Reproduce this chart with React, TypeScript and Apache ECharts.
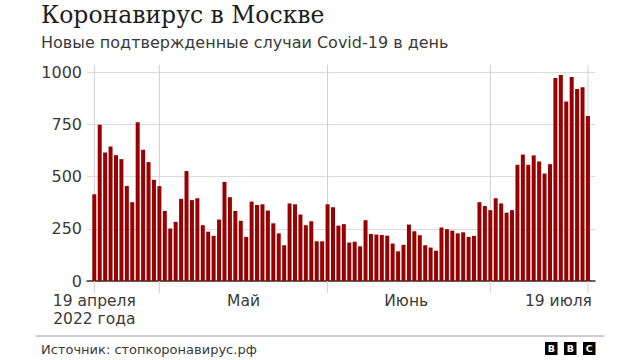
import React, { useEffect, useRef } from "react";
import * as echarts from "echarts";

// Daily new confirmed Covid-19 cases in Moscow, 19 April – 19 July 2022 (one value per day)
const cases = [
  415, 748, 615, 644, 602, 583, 454, 377, 759, 628, 569, 484,
  454, 335, 251, 283, 393, 526, 387, 396, 267, 236, 216, 294, 474, 401, 335, 288, 211, 380, 364, 367,
  337, 276, 228, 171, 371, 367, 318, 267, 286, 190, 190,
  367, 353, 265, 272, 184, 188, 166, 291, 225, 222, 220, 217, 179, 142, 173, 270, 238, 219, 171, 160,
  145, 256, 248, 241, 228, 233, 211, 216, 377, 359,
  339, 396, 371, 327, 339, 556, 605, 556, 601, 572, 514, 559, 971, 986, 859, 976, 919, 927, 789,
];

// Day indices (from 19 April) where vertical guide lines sit: 19 Apr, 1 May, 1 Jun, 1 Jul, 19 Jul
const markDays = [0, 12, 43, 73, 91];

// X-axis labels: anchor day index, line of text, row, alignment
const xLabelDays = [0, 0, 27.5, 57.5, 91];
const xLabelTexts = ["19 апреля", "2022 года", "Май", "Июнь", "19 июля"];
const xLabelRows = [0, 1, 0, 0, 0];
const xLabelAligns = ["center", "center", "center", "center", "right"];

const yTicks = [0, 250, 500, 750, 1000];

const TITLE = "Коронавирус в Москве";
const SUBTITLE = "Новые подтвержденные случаи Covid-19 в день";
const SOURCE = "Источник: стопкоронавирус.рф";

const SANS = '"DejaVu Sans", "Noto Sans", sans-serif';
const SERIF = '"DejaVu Serif", "Liberation Serif", serif';

export default function App() {
  const ref = useRef<HTMLDivElement>(null);

  useEffect(() => {
    if (!ref.current) return;
    const chart = echarts.init(ref.current, undefined, { renderer: "svg" });

    const barData = cases.map((v, i) => [i, v]);

    const option: any = {
      animation: false,
      backgroundColor: "#ffffff",
      grid: { left: 87, right: 45, top: 72, bottom: 79, containLabel: false },
      xAxis: {
        type: "value",
        min: -1.344,
        max: 92.3,
        axisLine: { show: true, onZero: true, lineStyle: { color: "#333333", width: 1.5 } },
        axisTick: { show: false },
        axisLabel: { show: false },
        splitLine: { show: false },
      },
      yAxis: {
        type: "value",
        min: yTicks[0],
        max: yTicks[yTicks.length - 1],
        interval: 250,
        axisLine: { show: false },
        axisTick: { show: false },
        axisLabel: {
          color: "#3a3a3a",
          fontFamily: SANS,
          fontSize: 16,
          margin: 5,
          formatter: (v: number) => String(v),
        },
        splitLine: { show: true, lineStyle: { color: "#dcdcdc", width: 1 } },
      },
      series: [
        {
          type: "custom",
          z: 1,
          silent: true,
          clip: false,
          data: markDays.map((d) => [d]),
          renderItem: (params: any, api: any) => {
            const bottom = api.coord([api.value(0), 0]);
            const top = api.coord([api.value(0), 1000]);
            return {
              type: "line",
              shape: { x1: bottom[0], y1: top[1] - 7, x2: bottom[0], y2: bottom[1] + 12 },
              style: { stroke: "#cfcfcf", lineWidth: 1 },
            };
          },
        },
        {
          type: "bar",
          z: 2,
          barWidth: 4,
          itemStyle: { color: "#990000" },
          data: barData,
        },
        {
          type: "custom",
          z: 3,
          silent: true,
          clip: false,
          data: xLabelDays.map((d, i) => [d, i]),
          renderItem: (params: any, api: any) => {
            const idx = api.value(1);
            const p = api.coord([api.value(0), 0]);
            const align = xLabelAligns[idx];
            return {
              type: "text",
              x: p[0] + (align === "right" ? 4 : 0),
              y: p[1] + 19.5 + xLabelRows[idx] * 18,
              style: {
                text: xLabelTexts[idx],
                textAlign: align,
                textVerticalAlign: "middle",
                font: `15.5px ${SANS}`,
                fill: "#3a3a3a",
              },
            };
          },
        },
      ],
      graphic: [
        {
          type: "text",
          x: 41,
          y: 15,
          style: {
            text: TITLE,
            font: `23.5px ${SERIF}`,
            fill: "#1e1e1e",
            textAlign: "left",
            textVerticalAlign: "middle",
          },
        },
        {
          type: "text",
          x: 41,
          y: 42,
          style: {
            text: SUBTITLE,
            font: `16px ${SANS}`,
            fill: "#3a3a3a",
            textAlign: "left",
            textVerticalAlign: "middle",
          },
        },
        {
          type: "line",
          shape: { x1: 36, y1: 336, x2: 604, y2: 336 },
          style: { stroke: "#9a9a9a", lineWidth: 1 },
        },
        {
          type: "text",
          x: 41,
          y: 349,
          style: {
            text: SOURCE,
            font: `13px ${SANS}`,
            fill: "#3a3a3a",
            textAlign: "left",
            textVerticalAlign: "middle",
          },
        },
        ...["B", "B", "C"].flatMap((ch, i) => [
          {
            type: "rect",
            shape: { x: 545 + i * 19, y: 342, width: 12.5, height: 13 },
            style: { fill: "#000000" },
          },
          {
            type: "text",
            x: 545 + i * 19 + 6.25,
            y: 348.8,
            style: {
              text: ch,
              font: `bold 9.5px ${SANS}`,
              fill: "#ffffff",
              textAlign: "center",
              textVerticalAlign: "middle",
            },
          },
        ]),
      ],
    };

    chart.setOption(option);
    return () => chart.dispose();
  }, []);

  return (
    <div
      ref={ref}
      style={{ position: "fixed", left: 0, top: 0, width: 640, height: 360 }}
    />
  );
}
